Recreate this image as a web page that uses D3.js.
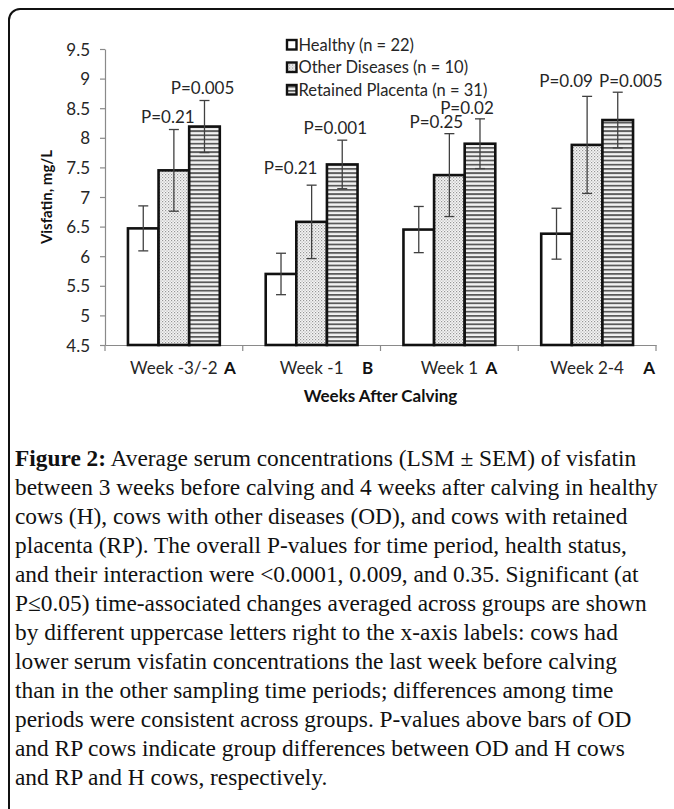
<!DOCTYPE html>
<html><head><meta charset="utf-8">
<script src="https://cdn.jsdelivr.net/npm/d3@7"></script>
<style>
html,body{margin:0;padding:0;background:#fff;overflow:hidden}
svg{display:block}
</style></head>
<body>
<svg id="chart" width="674" height="809"></svg>
<script>
// ---------------- data ----------------
const categories = ["Week -3/-2", "Week -1", "Week 1", "Week 2-4"];
const timeLetters = ["A", "B", "A", "A"];
const seriesNames = ["Healthy (n = 22)", "Other Diseases (n = 10)", "Retained Placenta (n = 31)"];
const healthy      = [6.47, 5.70, 6.45, 6.38];
const healthySem   = [0.38, 0.35, 0.39, 0.43];
const otherDis     = [7.45, 6.58, 7.37, 7.88];
const otherDisSem  = [0.69, 0.62, 0.70, 0.82];
const retained     = [8.19, 7.55, 7.90, 8.30];
const retainedSem  = [0.44, 0.41, 0.42, 0.47];
const yTicks = [4.5, 5, 5.5, 6, 6.5, 7, 7.5, 8, 8.5, 9, 9.5];
// P-value annotations: category index, series index, text, label height (value units)
const pLabels = [
  [0, 1, "P=0.21", 8.35], [0, 2, "P=0.005", 8.84],
  [1, 1, "P=0.21", 7.49], [1, 2, "P=0.001", 8.17],
  [2, 1, "P=0.25", 8.27], [2, 2, "P=0.02", 8.50],
  [3, 1, "P=0.09", 8.96], [3, 2, "P=0.005", 8.96]
];
const pLabelDx = [-6, -2, -21, -7, -13, -13, -21, 13];
const captionBold = "Figure 2:";
const captionLines = [
  " Average serum concentrations (LSM \u00b1 SEM) of visfatin",
  "between 3 weeks before calving and 4 weeks after calving in healthy",
  "cows (H), cows with other diseases (OD), and cows with retained",
  "placenta (RP). The overall P-values for time period, health status,",
  "and their interaction were <0.0001, 0.009, and 0.35. Significant (at",
  "P\u22640.05) time-associated changes averaged across groups are shown",
  "by different uppercase letters right to the x-axis labels: cows had",
  "lower serum visfatin concentrations the last week before calving",
  "than in the other sampling time periods; differences among time",
  "periods were consistent across groups. P-values above bars of OD",
  "and RP cows indicate group differences between OD and H cows",
  "and RP and H cows, respectively."
];

// ---------------- drawing ----------------
const values = [healthy, otherDis, retained];
const semArr = [healthySem, otherDisSem, retainedSem];

const svg = d3.select("#chart");
const font = "Lato, 'Open Sans', sans-serif";
const axisColor = "#8a8a8a";
const textColor = "#262626";

// frame
svg.append("rect").attr("x", 9).attr("y", 9).attr("width", 720).attr("height", 860)
  .attr("rx", 11).attr("fill", "none").attr("stroke", "#111").attr("stroke-width", 2);

// patterns
const defs = svg.append("defs");
const dots = defs.append("pattern").attr("id", "dots").attr("patternUnits", "userSpaceOnUse")
  .attr("width", 3).attr("height", 3);
dots.append("rect").attr("width", 3).attr("height", 3).attr("fill", "#f6f6f6");
dots.append("rect").attr("x", 0).attr("y", 0).attr("width", 1.2).attr("height", 1.2).attr("fill", "#969696");
dots.append("rect").attr("x", 1.5).attr("y", 1.5).attr("width", 1.2).attr("height", 1.2).attr("fill", "#b0b0b0");
const stripes = defs.append("pattern").attr("id", "stripes").attr("patternUnits", "userSpaceOnUse")
  .attr("width", 6).attr("height", 4.2);
stripes.append("rect").attr("width", 6).attr("height", 4.2).attr("fill", "#f2f2f2");
stripes.append("rect").attr("y", 0).attr("width", 6).attr("height", 1.8).attr("fill", "#5a5a5a");
const fills = ["#ffffff", "url(#dots)", "url(#stripes)"];

const plot = {left: 105, right: 656, top: 49, bottom: 345};
const y = d3.scaleLinear().domain([4.5, 9.5]).range([plot.bottom, plot.top]);
const x0 = d3.scaleBand().domain(categories).range([plot.left, plot.right]).padding(0);
const x1 = d3.scaleBand().domain(d3.range(seriesNames.length)).range([0, x0.bandwidth()])
  .paddingInner(0).paddingOuter(0.75);

// y axis
const yAxis = svg.append("g").attr("transform", `translate(${plot.left},0)`)
  .call(d3.axisLeft(y).tickValues(yTicks).tickSize(5).tickSizeOuter(0).tickPadding(10)
    .tickFormat(d => String(d)));
yAxis.select(".domain").attr("stroke", axisColor).attr("stroke-width", 1.2);
yAxis.selectAll(".tick line").attr("stroke", axisColor).attr("stroke-width", 1.2);
yAxis.selectAll(".tick text").attr("font-family", font).attr("font-size", 17)
  .attr("fill", textColor).attr("dy", "0.36em");

// x axis baseline with ticks at category boundaries
const xPad = 17;
const xAxis = svg.append("g").attr("transform", `translate(0,${plot.bottom})`)
  .call(d3.axisBottom(x0).tickSize(0).tickSizeOuter(0).tickPadding(xPad));
xAxis.select(".domain").attr("stroke", axisColor).attr("stroke-width", 1.2);
xAxis.selectAll(".tick text").attr("font-family", font).attr("font-size", 17)
  .attr("fill", textColor);
const bounds = categories.map(c => x0(c)).concat([x0(categories[categories.length - 1]) + x0.bandwidth()]);
svg.append("g").selectAll("line").data(bounds).join("line")
  .attr("x1", d => d).attr("x2", d => d).attr("y1", plot.bottom).attr("y2", plot.bottom + 6)
  .attr("stroke", axisColor).attr("stroke-width", 1.2);

// letters next to x labels
const letterDx = [56, 56, 42, 62];
svg.append("g").selectAll("text").data(categories).join("text")
  .attr("x", (c, i) => x0(c) + x0.bandwidth() / 2 + letterDx[i])
  .attr("y", plot.bottom + xPad).attr("dy", "0.71em")
  .attr("text-anchor", "middle").attr("font-family", font).attr("font-weight", "bold")
  .attr("font-size", 17).attr("fill", "#111")
  .text((c, i) => timeLetters[i]);

// bars
const barData = [];
categories.forEach((c, ci) => seriesNames.forEach((s, si) => {
  barData.push({c, ci, si, v: values[si][ci], e: semArr[si][ci]});
}));
const cx = d => x0(d.c) + x1(d.si) + x1.bandwidth() / 2;

svg.append("g").selectAll("rect").data(barData).join("rect")
  .attr("x", d => x0(d.c) + x1(d.si))
  .attr("y", d => y(d.v))
  .attr("width", x1.bandwidth())
  .attr("height", d => y(4.5) - y(d.v))
  .attr("fill", d => fills[d.si])
  .attr("stroke", "#111").attr("stroke-width", 2.6);

// error bars
const eb = svg.append("g").attr("stroke", "#404040").attr("stroke-width", 1.3);
eb.selectAll("line.v").data(barData).join("line").attr("class", "v")
  .attr("x1", cx).attr("x2", cx)
  .attr("y1", d => y(d.v + d.e)).attr("y2", d => y(d.v - d.e));
eb.selectAll("line.t").data(barData).join("line").attr("class", "t")
  .attr("x1", d => cx(d) - 5).attr("x2", d => cx(d) + 5)
  .attr("y1", d => y(d.v + d.e)).attr("y2", d => y(d.v + d.e));
eb.selectAll("line.b").data(barData).join("line").attr("class", "b")
  .attr("x1", d => cx(d) - 5).attr("x2", d => cx(d) + 5)
  .attr("y1", d => y(d.v - d.e)).attr("y2", d => y(d.v - d.e));

// P labels
svg.append("g").selectAll("text").data(pLabels).join("text")
  .attr("x", (d, i) => x0(categories[d[0]]) + x1(d[1]) + x1.bandwidth() / 2 + pLabelDx[i])
  .attr("y", d => y(d[3]))
  .attr("dy", "0.36em")
  .attr("text-anchor", "middle").attr("font-family", font).attr("font-size", 17)
  .attr("fill", textColor).text(d => d[2]);

// legend
const lg = svg.append("g").attr("transform", "translate(286,45)");
seriesNames.forEach((s, i) => {
  const g = lg.append("g").attr("transform", `translate(0,${i * 22.5})`);
  g.append("rect").attr("x", 1).attr("y", -5).attr("width", 9.5).attr("height", 9.5)
    .attr("fill", fills[i]).attr("stroke", "#111").attr("stroke-width", 2.4);
  g.append("text").attr("x", 12.5).attr("y", 0).attr("dy", "0.36em")
    .attr("font-family", font).attr("font-size", 16.5).attr("fill", textColor).text(s);
});

// axis titles
svg.append("text").attr("transform", `translate(52,${(plot.top + plot.bottom) / 2}) rotate(-90)`)
  .attr("text-anchor", "middle").attr("font-family", font).attr("font-weight", "bold")
  .attr("font-size", 15).attr("fill", "#111").text("Visfatin, mg/L");
svg.append("text").attr("x", (plot.left + plot.right) / 2).attr("y", 402)
  .attr("text-anchor", "middle").attr("font-family", font).attr("font-weight", "bold")
  .attr("font-size", 17).attr("fill", "#111").text("Weeks After Calving");

// caption
const serif = "'Liberation Serif', 'DejaVu Serif', serif";
const cap = svg.append("g").attr("font-family", serif).attr("fill", "#111");
const probe = cap.append("text").attr("font-size", 20).text(captionLines[1]);
const w = probe.node().getComputedTextLength();
probe.remove();
const fs = 20 * 643 / w;
cap.attr("font-size", fs);
captionLines.forEach((line, i) => {
  const t = cap.append("text").attr("x", 15).attr("y", 466 + i * 29);
  if (i === 0) {
    t.append("tspan").attr("font-weight", "bold").text(captionBold);
  }
  t.append("tspan").text(line);
});
</script>
</body></html>
